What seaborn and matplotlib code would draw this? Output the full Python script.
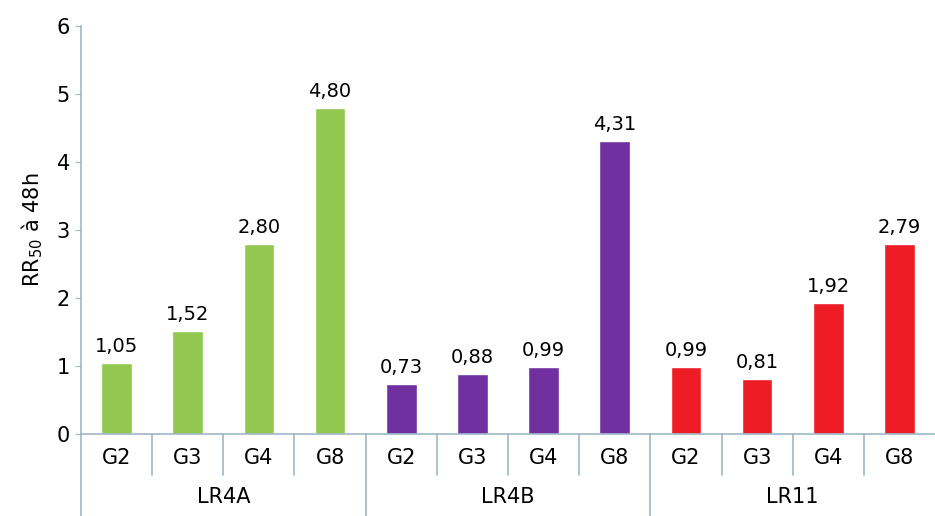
import pandas as pd
import numpy as np
import seaborn as sns
import matplotlib.pyplot as plt

# --- data ---
groups = ["LR4A", "LR4B", "LR11"]
generations = ["G2", "G3", "G4", "G8"]
lr4a = [1.05, 1.52, 2.80, 4.80]
lr4b = [0.73, 0.88, 0.99, 4.31]
lr11 = [0.99, 0.81, 1.92, 2.79]
colors = {"LR4A": "#92C84F", "LR4B": "#7030A0", "LR11": "#EE1C25"}

rows = []
for grp, vals in zip(groups, [lr4a, lr4b, lr11]):
    for g, v in zip(generations, vals):
        rows.append({"cat": f"{grp} {g}", "gen": g, "group": grp, "rr50": v})
df = pd.DataFrame(rows)

sns.set_style("white")
plt.rcParams["font.family"] = ["DejaVu Sans"]
plt.rcParams["text.color"] = "black"
plt.rcParams["xtick.color"] = "black"
plt.rcParams["ytick.color"] = "black"
plt.rcParams["axes.labelcolor"] = "black"
axis_col = "#9DB7C6"

fig = plt.figure(figsize=(9.35, 5.16), dpi=100)
ax = fig.add_axes([81 / 935, 82 / 516, 1 - 81 / 935, 408 / 516])

sns.barplot(data=df, x="cat", y="rr50", hue="group", palette=colors,
            dodge=False, width=0.43, saturation=1, legend=False, ax=ax)

for c in ax.containers:
    ax.bar_label(c, fmt=lambda v: f"{v:.2f}".replace(".", ","),
                 padding=5, fontsize=14)

ax.set_ylim(0, 6)
ax.set_xlim(-0.5, len(df) - 0.5)
ax.set_yticks(range(7))
ax.tick_params(axis="y", left=True, length=4, color=axis_col, labelsize=15, pad=4)
ax.set_xticks(range(len(df)))
ax.set_xticklabels(df["gen"], fontsize=15)
ax.tick_params(axis="x", length=0, pad=10)
ax.set_xlabel("")
ax.set_ylabel("RR$_{50}$ à 48h", fontsize=15, labelpad=8)

for side in ["top", "right"]:
    ax.spines[side].set_visible(False)
for side in ["left", "bottom"]:
    ax.spines[side].set_color(axis_col)
    ax.spines[side].set_linewidth(1.2)

# category separators under the axis, group separators reaching the bottom
tr = ax.get_xaxis_transform()
for i in range(1, len(df)):
    depth = -0.201 if i % len(generations) == 0 else -0.10
    ax.plot([i - 0.5, i - 0.5], [0, depth], color=axis_col, lw=1.2,
            transform=tr, clip_on=False)
ax.plot([-0.5, -0.5], [0, -0.201], color=axis_col, lw=1.2,
        transform=tr, clip_on=False)

for k, grp in enumerate(groups):
    mid = k * len(generations) + (len(generations) - 1) / 2
    ax.text(mid, -0.155, grp, transform=tr, ha="center", va="center", fontsize=15)

fig.savefig("out.png", dpi=100)
